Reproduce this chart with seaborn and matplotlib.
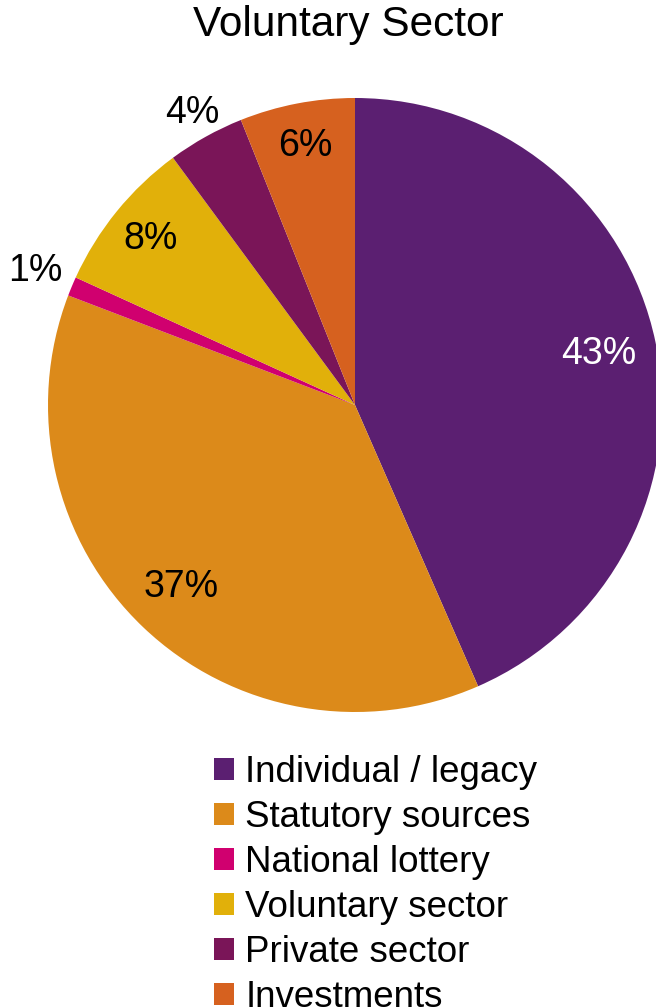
import numpy as np
import matplotlib
matplotlib.use("Agg")
import matplotlib.pyplot as plt
import seaborn as sns

# Voluntary sector income by source (percent)
sources = ["Individual / legacy", "Statutory sources", "National lottery",
           "Voluntary sector", "Private sector", "Investments"]
shares = [43, 37, 1, 8, 4, 6]
colors = ["#5B1F71", "#DC8A1A", "#D0006F", "#E1B00A", "#7A1558", "#D6611F"]
label_colors = ["white", "black", "black", "black", "black", "black"]
label_radius = [0.81, 0.82, 1.13, 0.86, 1.09, 0.86]

sns.set_theme(style="white")
plt.rcParams["font.family"] = ["Liberation Sans", "DejaVu Sans"]

fig = plt.figure(figsize=(6.56, 10.07), dpi=100)
fig.patch.set_facecolor("white")

W, H = 656, 1007
cx, cy, r = 355, 405, 307
ax = fig.add_axes([(cx - r) / W, (H - cy - r) / H, 2 * r / W, 2 * r / H])

wedges, _ = ax.pie(shares, colors=colors, startangle=90, counterclock=False,
                   radius=1, wedgeprops=dict(linewidth=0))
ax.set_xlim(-1, 1)
ax.set_ylim(-1, 1)
ax.set_aspect("equal")
ax.axis("off")
for w in wedges:
    w.set_clip_on(False)

total = sum(shares)
for w, v, col, rad in zip(wedges, shares, label_colors, label_radius):
    mid = np.deg2rad((w.theta1 + w.theta2) / 2)
    ax.text(rad * np.cos(mid), rad * np.sin(mid), f"{round(100 * v / total)}%",
            ha="center", va="center", fontsize=27, color=col, clip_on=False)

fig.text(348 / W, 1 - 25 / H, "Voluntary Sector", ha="center", va="center",
         fontsize=30.5, color="black")

leg = fig.legend(wedges, sources, loc="upper left",
                 bbox_to_anchor=(214 / W, 1 - 755 / H),
                 frameon=False, fontsize=26.5, handlelength=0.55, handleheight=0.55,
                 handletextpad=0.3, labelspacing=0.27, borderpad=0, borderaxespad=0)
for t in leg.get_texts():
    t.set_color("black")

fig.savefig("out.png", dpi=100, facecolor="white")
